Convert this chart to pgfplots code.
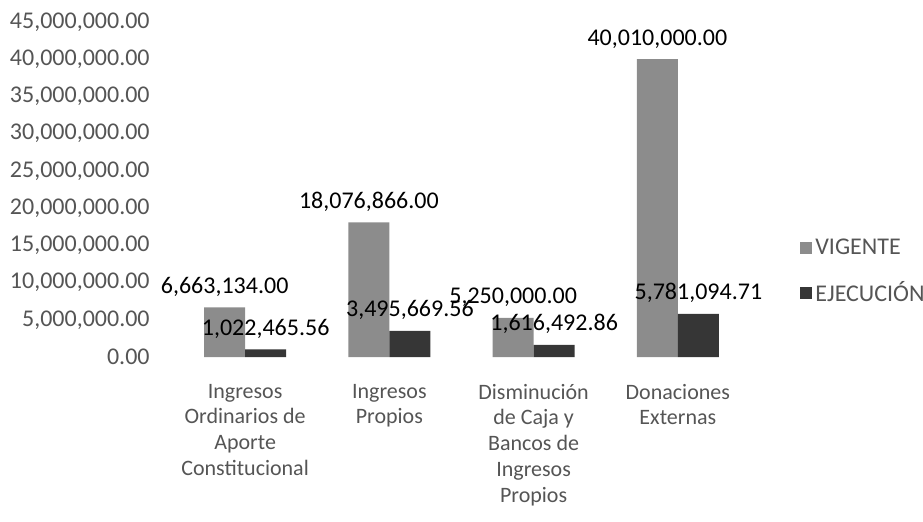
\documentclass[border=0pt]{standalone}
\usepackage{pgfplots}
\pgfplotsset{compat=1.18}
\usepackage{fontspec}
\setmainfont{Carlito}

\definecolor{vig}{HTML}{8C8C8C}
\definecolor{eje}{HTML}{363636}
\definecolor{txt}{HTML}{555555}

\begin{document}
\begin{tikzpicture}
% page = 923x521 px at 0.5pt per px, axis box lower left at (0,0)
\useasboundingbox (-86.5pt,-82pt) rectangle (375pt,178.5pt);
\begin{axis}[
    scale only axis,
    width=288.5pt, height=167.5pt,
    xmin=-0.5, xmax=3.5,
    ymin=0, ymax=45000000,
    enlargelimits=false,
    scaled y ticks=false,
    axis line style={draw=none},
    tick style={draw=none},
    ybar=0pt,
    bar width=20.5pt,
    xtick={0,1,2,3},
    xticklabels={
        {Ingresos\\Ordinarios de\\Aporte\\Constitucional},
        {Ingresos\\Propios},
        {Disminución\\de Caja y\\Bancos de\\Ingresos\\Propios},
        {Donaciones\\Externas}},
    xticklabel style={align=center, anchor=north, inner sep=0pt, yshift=-9pt,
        text=txt, font=\fontsize{11}{12.9}\selectfont},
    ytick={0,5000000,10000000,15000000,20000000,25000000,30000000,35000000,40000000,45000000},
    yticklabels={0.00,{5,000,000.00},{10,000,000.00},{15,000,000.00},{20,000,000.00},
        {25,000,000.00},{30,000,000.00},{35,000,000.00},{40,000,000.00},{45,000,000.00}},
    yticklabel style={anchor=east, inner sep=0pt, xshift=-11.5pt, text=txt,
        font=\fontsize{12}{14}\selectfont},
    /pgf/number format/assume math mode=true,
    point meta=explicit symbolic,
    nodes near coords,
    nodes near coords style={anchor=south, yshift=2pt, text=black,
        font=\fontsize{12}{14}\selectfont},
    legend style={draw=none, fill=none, at={(rel axis cs:1,0.255)}, anchor=west,
        xshift=25pt, row sep=9pt, inner sep=0pt,
        nodes={inner sep=1.5pt, text=txt, font=\fontsize{12}{14}\selectfont}},
    legend cell align=left,
    legend image code/.code={\fill[#1] (0pt,-3pt) rectangle (6pt,3pt);},
]
\addplot[fill=vig, draw=none] coordinates {
    (0,6663134.00) [6,663,134.00]
    (1,18076866.00) [18,076,866.00]
    (2,5250000.00) [5,250,000.00]
    (3,40010000.00) [40,010,000.00]
};
\addplot[fill=eje, draw=none] coordinates {
    (0,1022465.56) [1,022,465.56]
    (1,3495669.56) [3,495,669.56]
    (2,1616492.86) [1,616,492.86]
    (3,5781094.71) [5,781,094.71]
};
\legend{VIGENTE, EJECUCIÓN}
\end{axis}
\end{tikzpicture}
\end{document}
